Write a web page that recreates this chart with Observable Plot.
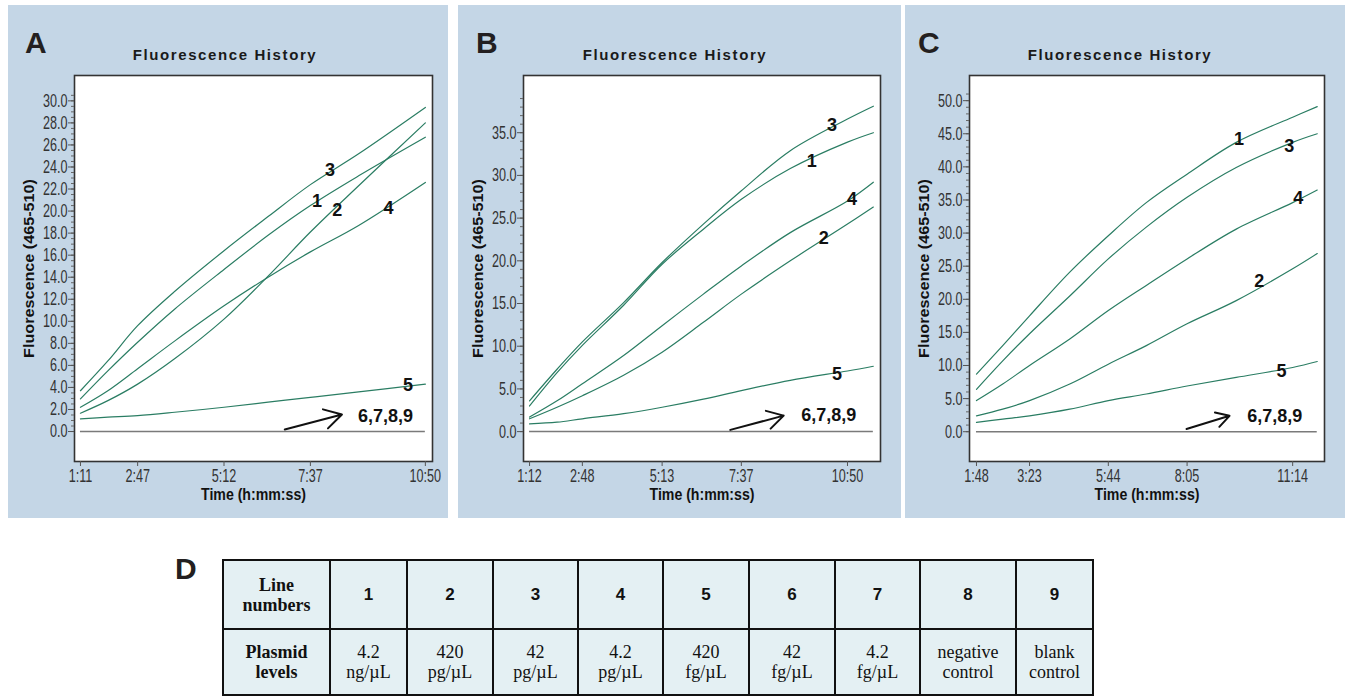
<!DOCTYPE html>
<html><head><meta charset="utf-8">
<script src="https://cdn.jsdelivr.net/npm/d3@7"></script>
<script src="https://cdn.jsdelivr.net/npm/@observablehq/plot@0.6"></script>
<style>
body{margin:0;background:#fff;width:1350px;height:696px;overflow:hidden;position:relative;font-family:'Liberation Sans',Arial,sans-serif}
.panel{position:absolute;top:5px;height:513px;background:#c4d6e6}
.letter{position:absolute;font:bold 30px/30px 'Liberation Sans',Arial,sans-serif;color:#231f20}
.title{position:absolute;top:47px;width:300px;text-align:center;font:bold 15px/15px 'Liberation Sans',Arial,sans-serif;letter-spacing:1.6px;color:#1a1a1a}
.plot{position:absolute}
table{position:absolute;left:222px;top:559px;border-collapse:collapse;background:#e4f0f3;table-layout:fixed}
td{border:2px solid #111;text-align:center;vertical-align:middle;padding:0;color:#111}
td.hd{font:bold 18px/20px 'Liberation Serif','Times New Roman',serif}
td.num{font:bold 17px 'Liberation Sans',Arial,sans-serif}
td.val{font:18px/20px 'Liberation Serif','Times New Roman',serif}
</style></head>
<body>
<script>
// ---------- Panel A data (time in seconds) ----------
const timesA = [71, 117, 167, 229, 312, 386, 457, 538, 650];
const A_line1 = [2.96, 5.5, 8.1, 11.1, 14.7, 17.8, 20.5, 23.2, 26.7];
const A_line2 = [1.66, 2.8, 4.3, 6.6, 10.2, 14.1, 18.1, 22.3, 28.0];
const A_line3 = [3.7, 6.4, 9.6, 12.7, 16.4, 19.5, 22.4, 25.2, 29.4];
const A_line4 = [2.2, 3.7, 5.7, 8.2, 11.4, 14.0, 16.3, 18.7, 22.6];
const A_line5 = [1.15, 1.3, 1.45, 1.75, 2.2, 2.66, 3.1, 3.6, 4.3];
const A_xTicks = [71, 167, 312, 457, 650];
const A_xTickLabels = ["1:11", "2:47", "5:12", "7:37", "10:50"];
const A_yTicks = [0,2,4,6,8,10,12,14,16,18,20,22,24,26,28,30];
const A_labels = [
  {text:"3", t:490, v:23.7}, {text:"1", t:468, v:20.9}, {text:"2", t:502, v:20.1},
  {text:"4", t:588, v:20.3}, {text:"5", t:621, v:4.2}, {text:"6,7,8,9", t:583, v:1.36}];
const A_arrow = {t1:414, v1:0.18, t2:510, v2:1.54};

// ---------- Panel B data ----------
const timesB = [72, 122, 168, 243, 313, 388, 457, 546, 650, 697];
const B_line1 = [3.0, 6.9, 10.1, 14.8, 19.6, 23.7, 27.2, 30.8, 33.9, 35.0];
const B_line2 = [1.5, 2.85, 4.2, 6.6, 9.3, 12.8, 16.1, 20.0, 24.3, 26.3];
const B_line3 = [3.6, 7.3, 10.5, 15.1, 19.8, 24.3, 28.2, 32.9, 36.6, 38.1];
const B_line4 = [1.7, 3.6, 5.6, 8.9, 12.4, 16.1, 19.4, 23.3, 27.0, 29.2];
const B_line5 = [0.9, 1.1, 1.5, 2.1, 2.85, 3.8, 4.8, 6.0, 7.1, 7.65];
const B_xTicks = [72, 168, 313, 457, 650];
const B_xTickLabels = ["1:12", "2:48", "5:13", "7:37", "10:50"];
const B_yTicks = [0,5,10,15,20,25,30,35];
const B_labels = [
  {text:"3", t:622, v:35.9}, {text:"1", t:585, v:31.7}, {text:"4", t:658, v:27.2},
  {text:"2", t:607, v:22.6}, {text:"5", t:631, v:6.76}, {text:"6,7,8,9", t:616, v:1.87}];
const B_arrow = {t1:437, v1:0.2, t2:534, v2:1.87};

// ---------- Panel C data ----------
const timesC = [108, 155, 203, 275, 344, 412, 485, 573, 674, 718];
const C_line1 = [8.7, 13.0, 17.5, 24.1, 29.6, 34.6, 38.9, 43.7, 47.5, 49.1];
const C_line2 = [2.4, 3.4, 4.7, 7.2, 10.2, 13.0, 16.3, 19.8, 24.6, 26.9];
const C_line3 = [6.4, 10.7, 14.8, 20.5, 26.1, 30.9, 35.4, 39.9, 43.7, 45.0];
const C_line4 = [4.7, 7.2, 10.0, 14.0, 18.3, 22.1, 26.1, 30.6, 34.6, 36.5];
const C_line5 = [1.4, 1.9, 2.4, 3.4, 4.7, 5.7, 6.9, 8.2, 9.7, 10.6];
const C_xTicks = [108, 203, 344, 485, 674];
const C_xTickLabels = ["1:48", "3:23", "5:44", "8:05", "11:14"];
const C_yTicks = [0,5,10,15,20,25,30,35,40,45,50];
const C_labels = [
  {text:"1", t:578, v:44.1}, {text:"3", t:668, v:43.1}, {text:"4", t:684, v:35.2},
  {text:"2", t:614, v:22.7}, {text:"5", t:654, v:9.2}, {text:"6,7,8,9", t:642, v:2.3}];
const C_arrow = {t1:484, v1:0.4, t2:561, v2:2.4};

// ---------- Table D ----------
const tableHeader = ["Line numbers", "Plasmid levels"];
const lineNumbers = ["1","2","3","4","5","6","7","8","9"];
const plasmidLevels = [["4.2","ng/µL"],["420","pg/µL"],["42","pg/µL"],["4.2","pg/µL"],["420","fg/µL"],["42","fg/µL"],["4.2","fg/µL"],["negative","control"],["blank","control"]];

const chartTitle = "Fluorescence History";
const yLabel = "Fluorescence (465-510)";
const xLabel = "Time (h:mm:ss)";

const sans = "'Liberation Sans',Arial,sans-serif";

function addDiv(cls, css, text){
  const d = document.createElement("div");
  d.className = cls; Object.assign(d.style, css); if (text!=null) d.textContent = text;
  document.body.appendChild(d); return d;
}

function makePanel(o){
  const rows = [];
  o.series.forEach(([name, vals]) => vals.forEach((v,i) => rows.push({line:name, t:o.times[i], v})));
  const mL=60, mR=10, mT=10, mB=48;
  const [fx0, fy0, fx1, fy1] = o.frame;
  const W = fx1-fx0+mL+mR, H = fy1-fy0+mT+mB;
  const labMap = new Map(o.xTicks.map((t,i)=>[t, o.xTickLabels[i]]));
  const svg = Plot.plot({
    width: W, height: H, marginLeft:mL, marginRight:mR, marginTop:mT, marginBottom:mB,
    x:{domain:o.xDomain, label:null}, y:{domain:o.yDomain, label:null},
    style:{background:"transparent", fontFamily:sans, fontSize:"18.5px", color:"#333", overflow:"visible"},
    marks:[
      Plot.frame({fill:"white", stroke:"#333", strokeWidth:1.6}),
      Plot.axisY({ticks:o.yMinor, tickSize:3, tickFormat:()=>"", label:null, stroke:"#666"}),
      Plot.axisY({ticks:o.yTicks, tickSize:6, tickPadding:1, tickFormat:d=>d.toFixed(1), label:null, stroke:"#555"}),
      Plot.axisX({ticks:o.xTicks, tickSize:5, tickPadding:2, tickFormat:d=>labMap.get(d), label:null, stroke:"#555"}),
      Plot.ruleY([0], {x1:o.times[0], x2:o.times[o.times.length-1], stroke:"#7a7a7a", strokeWidth:1.5}),
      Plot.line(rows, {x:"t", y:"v", z:"line", stroke:"#2a7d63", strokeWidth:1.2, curve:"catmull-rom"}),
      Plot.arrow([o.arrow], {x1:"t1", y1:"v1", x2:"t2", y2:"v2", stroke:"#111", strokeWidth:2, headLength:15, bend:0}),
      Plot.text(o.labels, {x:"t", y:"v", text:"text", fontWeight:"bold", fontSize:18, fontFamily:sans, fill:"#111"}),
      Plot.text([yLabel], {text:d=>d, frameAnchor:"left", textAnchor:"middle", rotate:-90, dx:-45, fontWeight:"bold", fontSize:14, fontFamily:sans, fill:"#111"}),
      Plot.text([xLabel], {text:d=>d, frameAnchor:"bottom", dy:38, fontWeight:"bold", fontSize:16, fontFamily:sans, fill:"#111"})
    ]
  });
  svg.classList.add("plot");
  svg.style.left = (fx0-mL)+"px"; svg.style.top = (fy0-mT)+"px"; svg.style.position="absolute";
  document.body.appendChild(svg);
  // condense tick labels and axis titles (narrow typeface look)
  svg.querySelectorAll("text").forEach(t => {
    const s = t.textContent;
    if (s === xLabel) { t.setAttribute("textLength", 105); t.setAttribute("lengthAdjust","spacingAndGlyphs"); return; }
    if (s === yLabel) { t.setAttribute("textLength", 179); t.setAttribute("lengthAdjust","spacingAndGlyphs"); return; }
    const g = t.closest("g[aria-label]");
    if (g && /tick label/.test(g.getAttribute("aria-label")) && s) {
      const L = t.getComputedTextLength();
      t.setAttribute("textLength", (L*0.68).toFixed(1));
      t.setAttribute("lengthAdjust","spacingAndGlyphs");
    }
  });
}

// panels backgrounds
addDiv("panel", {left:"8px", width:"440px"});
addDiv("panel", {left:"458px", width:"443px"});
addDiv("panel", {left:"905px", width:"440px"});
addDiv("letter", {left:"25px", top:"28px"}, "A");
addDiv("letter", {left:"476px", top:"28px"}, "B");
addDiv("letter", {left:"918px", top:"28px"}, "C");
addDiv("title", {left:(225-150)+"px"}, chartTitle);
addDiv("title", {left:(675-150)+"px"}, chartTitle);
addDiv("title", {left:(1120-150)+"px"}, chartTitle);

makePanel({frame:[74,75,432,461], xDomain:[61,662], yDomain:[-2.72,32.3], times:timesA,
  series:[["1",A_line1],["2",A_line2],["3",A_line3],["4",A_line4],["5",A_line5]],
  xTicks:A_xTicks, xTickLabels:A_xTickLabels, yTicks:A_yTicks, yMinor:d3.range(0,30.6,0.5),
  labels:A_labels, arrow:A_arrow});
makePanel({frame:[523,75,880,461], xDomain:[61,710], yDomain:[-3.5,41.7], times:timesB,
  series:[["1",B_line1],["2",B_line2],["3",B_line3],["4",B_line4],["5",B_line5]],
  xTicks:B_xTicks, xTickLabels:B_xTickLabels, yTicks:B_yTicks, yMinor:d3.range(0,39.5,1),
  labels:B_labels, arrow:B_arrow});
makePanel({frame:[969,75,1324,461], xDomain:[95.5,731], yDomain:[-4.5,53.8], times:timesC,
  series:[["1",C_line1],["2",C_line2],["3",C_line3],["4",C_line4],["5",C_line5]],
  xTicks:C_xTicks, xTickLabels:C_xTickLabels, yTicks:C_yTicks, yMinor:d3.range(0,51.5,1),
  labels:C_labels, arrow:C_arrow});

// Table D
addDiv("letter", {left:"175px", top:"554px"}, "D");
const colW = [107,77,86,85,85,86,86,85,96,77];
const table = document.createElement("table");
const cg = document.createElement("colgroup");
colW.forEach(w => { const c = document.createElement("col"); c.style.width = w+"px"; cg.appendChild(c); });
table.appendChild(cg);
const tr1 = document.createElement("tr"); tr1.style.height = "69px";
const h1 = document.createElement("td"); h1.className="hd"; h1.innerHTML = tableHeader[0].replace(" ","<br>"); tr1.appendChild(h1);
lineNumbers.forEach(n => { const td=document.createElement("td"); td.className="num"; td.textContent=n; tr1.appendChild(td); });
const tr2 = document.createElement("tr"); tr2.style.height = "66px";
const h2 = document.createElement("td"); h2.className="hd"; h2.innerHTML = tableHeader[1].replace(" ","<br>"); tr2.appendChild(h2);
plasmidLevels.forEach(p => { const td=document.createElement("td"); td.className="val"; td.innerHTML=p[0]+"<br>"+p[1]; tr2.appendChild(td); });
table.appendChild(tr1); table.appendChild(tr2);
document.body.appendChild(table);
</script>
</body></html>
